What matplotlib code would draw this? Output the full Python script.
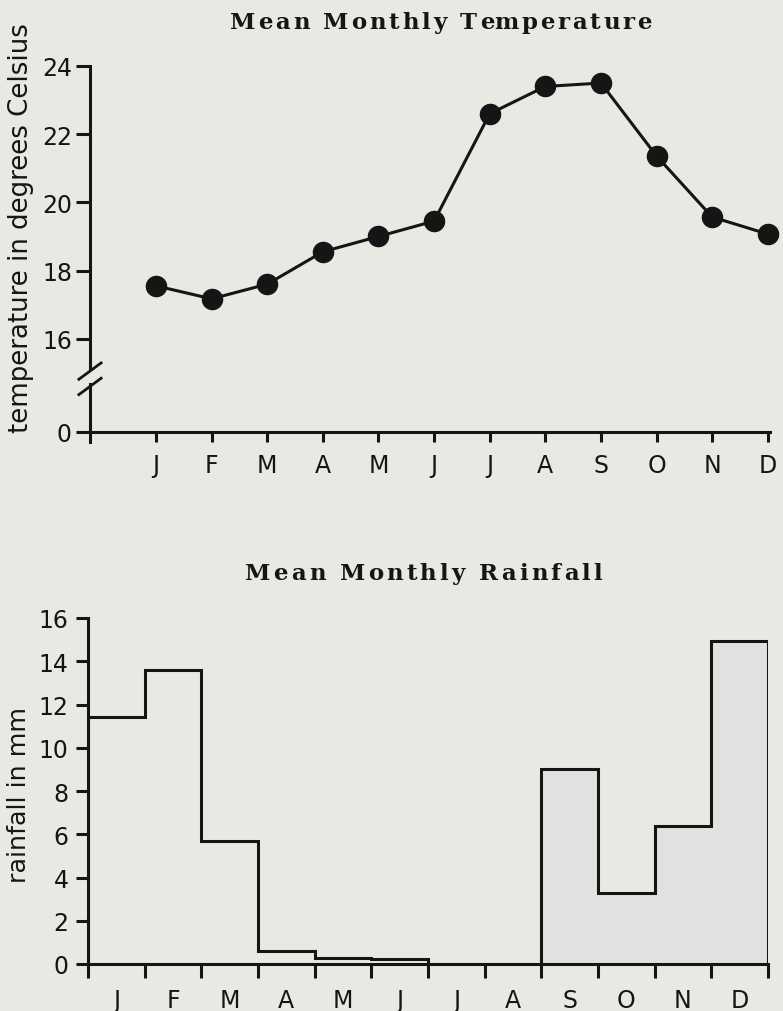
import matplotlib
matplotlib.use("Agg")
import matplotlib.pyplot as plt
import numpy as np

months = ["J", "F", "M", "A", "M", "J", "J", "A", "S", "O", "N", "D"]

# mean monthly temperature, degrees C
temperature = [17.55, 17.17, 17.6, 18.55, 19.0, 19.45,
               22.6, 23.4, 23.5, 21.36, 19.57, 19.07]

# mean monthly rainfall, mm
rainfall = [11.4, 13.6, 5.7, 0.6, 0.3, 0.25,
            0.0, 0.0, 9.0, 3.3, 6.4, 14.95]

temp_ticks = [16, 18, 20, 22, 24]
rain_ticks = [0, 2, 4, 6, 8, 10, 12, 14, 16]

PAPER = "#e9e8e2"
SHADE = "#e1e2df"
INK = "#151515"
W, H = 783, 1012

plt.rcParams["font.family"] = "DejaVu Sans"

fig = plt.figure(figsize=(W / 100, H / 100), dpi=100, facecolor=PAPER)
renderer = fig.canvas.get_renderer()


def text_width(s, **kw):
    t = fig.text(0, 0, s, **kw)
    w = t.get_window_extent(renderer).width
    t.remove()
    return w


def spaced_title(s, x_left, x_right, y, **kw):
    # letter-spaced heading, stretched to span x_left..x_right pixels
    ref = text_width("x", **kw)
    natural = text_width(s, **kw)
    track = (x_right - x_left - natural) / (len(s) - 1)
    for i, ch in enumerate(s):
        if ch == " ":
            continue
        off = text_width(s[:i] + "x", **kw) - ref if i else 0.0
        fig.text((x_left + off + i * track) / W, 1 - y / H, ch,
                 ha="left", va="baseline", **kw)


title_kw = dict(family="DejaVu Serif", fontweight="bold", fontsize=16.5,
                color=INK)

# ---- temperature ----
ax1 = fig.add_axes([90 / W, 1 - 443 / H, 680 / W, 376 / H])
ax1.set_facecolor(PAPER)

zero_pos = 13.27  # where "0" sits below the axis break
x = np.arange(1, 13)

ax1.plot(x, temperature, color=INK, linewidth=2.2,
         marker="o", markersize=14.5, clip_on=False, zorder=3)

ax1.set_xlim(-0.187, 12.04)
ax1.set_ylim(12.97, 24.0)

ax1.spines["top"].set_visible(False)
ax1.spines["right"].set_visible(False)
ax1.spines["left"].set_visible(False)
ax1.spines["bottom"].set_position(("data", zero_pos))
ax1.spines["bottom"].set_linewidth(2.2)
ax1.spines["bottom"].set_color(INK)

# left axis drawn by hand so it can carry the break
ax1.plot([-0.187, -0.187], [24.0, 15.1], color=INK, lw=2.2, clip_on=False)
ax1.plot([-0.187, -0.187], [14.68, 12.97], color=INK, lw=2.2, clip_on=False)
for yb in (15.05, 14.6):
    ax1.plot([-0.187 - 0.2, -0.187 + 0.2], [yb - 0.24, yb + 0.24],
             color=INK, lw=2.0, clip_on=False)

ax1.set_yticks([zero_pos] + temp_ticks)
ax1.set_yticklabels(["0"] + [str(t) for t in temp_ticks])
ax1.set_xticks(x)
ax1.set_xticklabels(months)
ax1.tick_params(axis="y", direction="out", length=10, width=2.2,
                pad=3, labelsize=17, color=INK, labelcolor=INK)
ax1.tick_params(axis="x", direction="out", length=7, width=2.2,
                pad=8, labelsize=17, color=INK, labelcolor=INK)

spaced_title("Mean Monthly Temperature", 230, 652, 29, **title_kw)
fig.text(21 / W, 1 - 228 / H, "temperature in degrees Celsius",
         fontsize=18.7, rotation=90, ha="center", va="center", color=INK)

# ---- rainfall ----
ax2 = fig.add_axes([88 / W, 1 - 965 / H, 680 / W, 346 / H])
ax2.set_facecolor(PAPER)

edges = np.arange(13)
centers = edges[:-1] + 0.5

ax2.bar(centers[8:], rainfall[8:], width=1.0, color=SHADE,
        edgecolor="none", zorder=1)
ax2.stairs(rainfall, edges, baseline=0, color=INK, linewidth=2.2, zorder=3)

ax2.set_xlim(0, 12)
ax2.set_ylim(0, 16)
ax2.spines["top"].set_visible(False)
ax2.spines["right"].set_visible(False)
for s in ("left", "bottom"):
    ax2.spines[s].set_linewidth(2.2)
    ax2.spines[s].set_color(INK)

ax2.set_yticks(rain_ticks)
ax2.set_xticks(edges)
ax2.set_xticklabels([])
ax2.set_xticks(centers, minor=True)
ax2.set_xticklabels(months, minor=True)
ax2.tick_params(axis="y", direction="out", length=9, width=2.2,
                pad=5, labelsize=17, color=INK, labelcolor=INK)
ax2.tick_params(axis="x", which="major", direction="out", length=10,
                width=2.2, color=INK)
ax2.tick_params(axis="x", which="minor", length=0, pad=17,
                labelsize=17, labelcolor=INK)

spaced_title("Mean Monthly Rainfall", 245, 602, 580, **title_kw)
fig.text(19 / W, 1 - 795 / H, "rainfall in mm",
         fontsize=18.3, rotation=90, ha="center", va="center", color=INK)

fig.savefig("out.png", dpi=100, facecolor=PAPER)
